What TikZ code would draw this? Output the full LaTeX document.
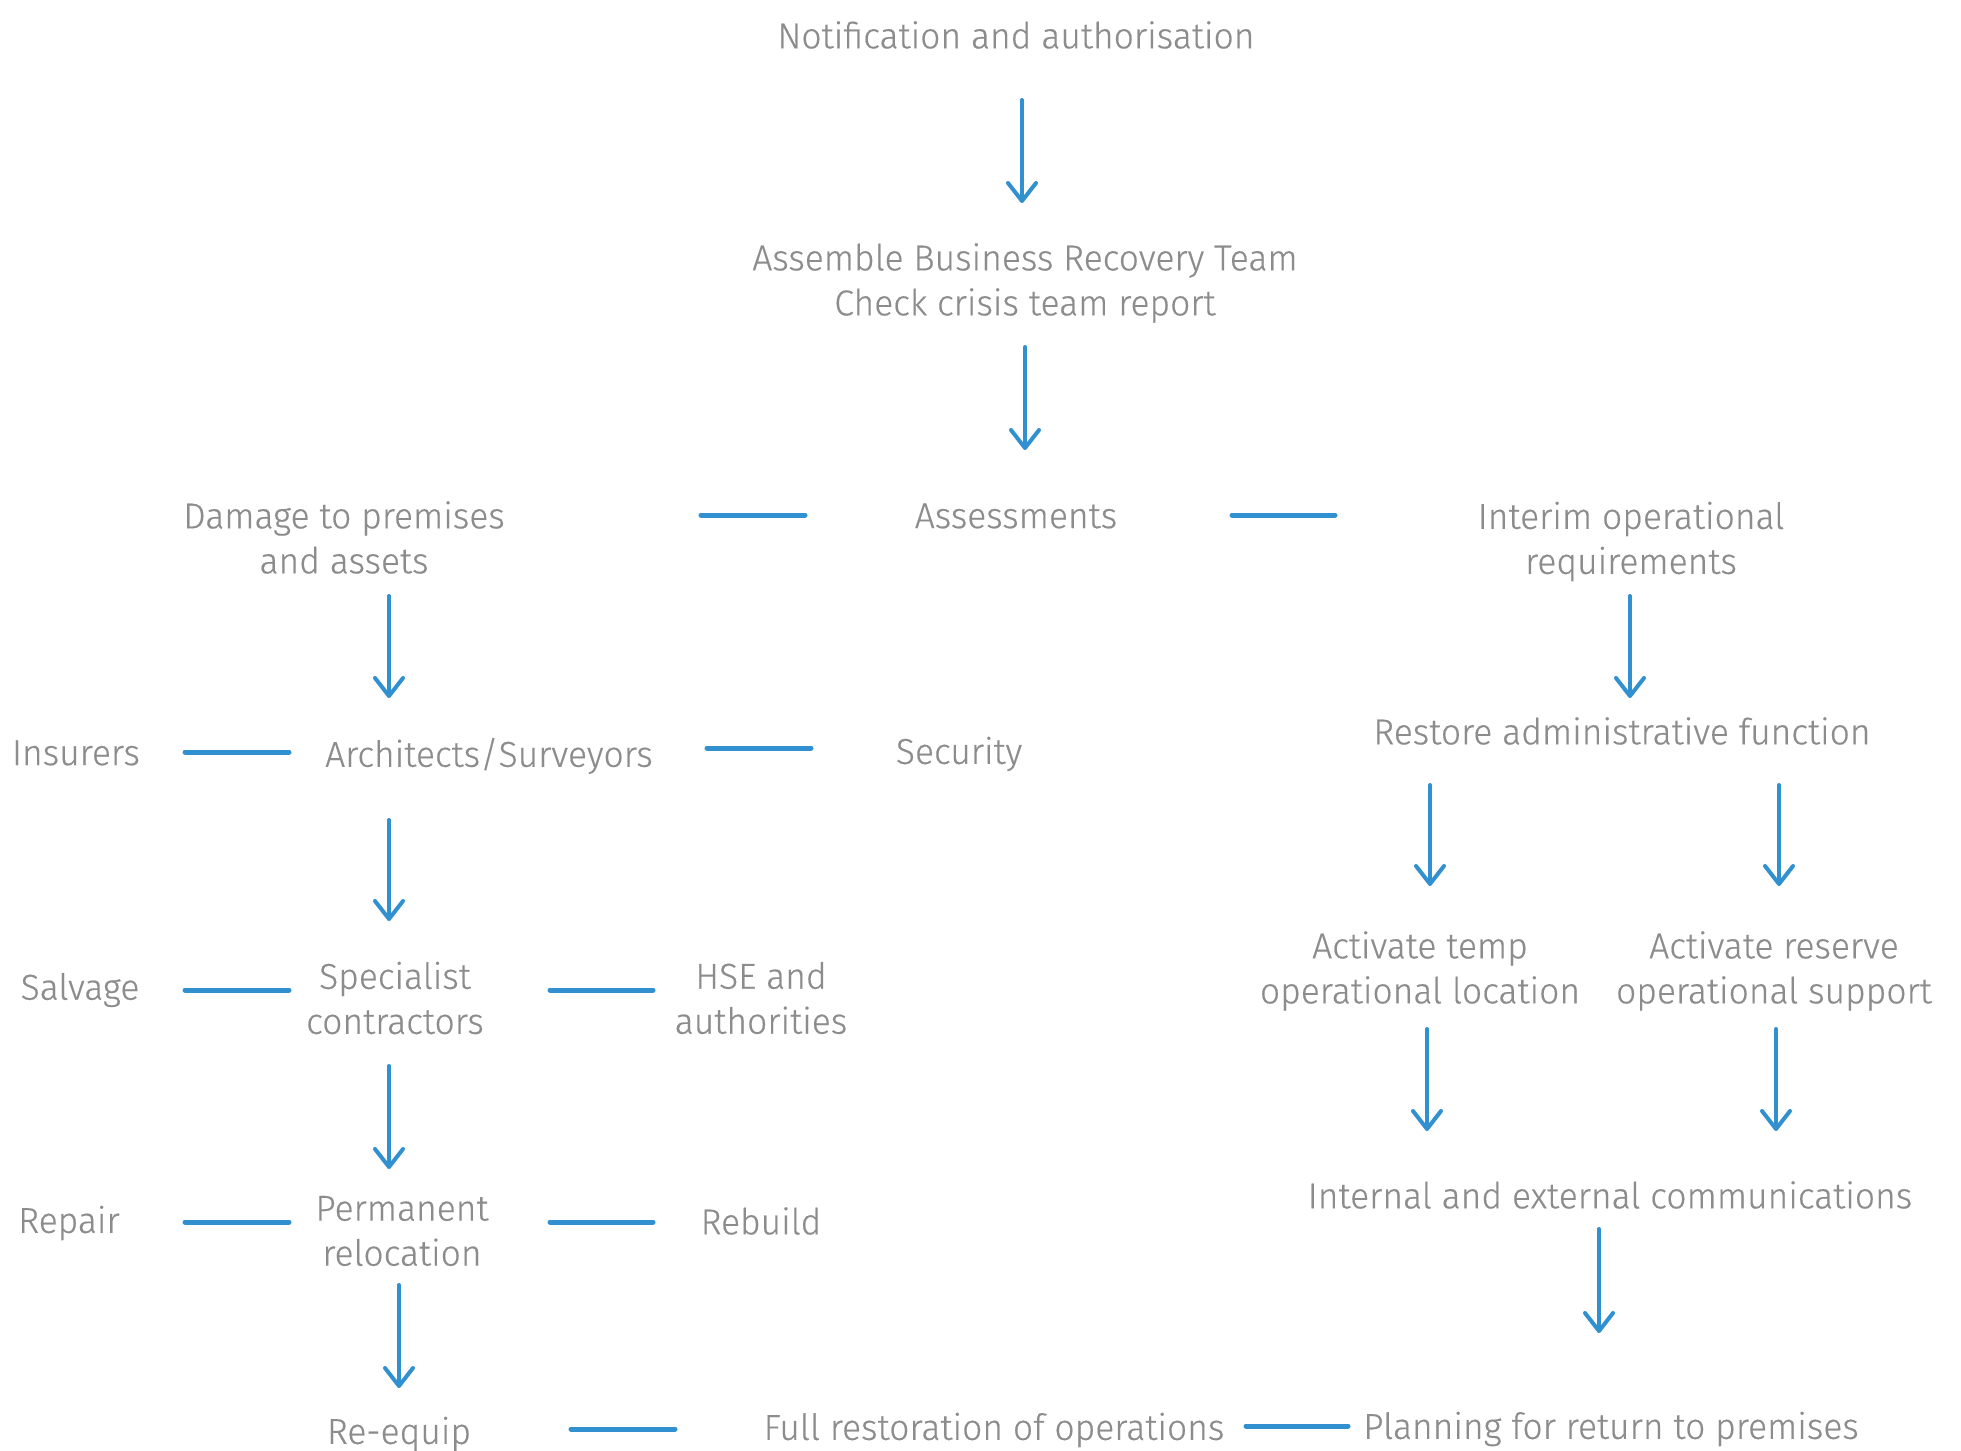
\documentclass[tikz,border=0pt]{standalone}
\usepackage{fontspec}
\setmainfont{Fira Sans Light}[FakeStretch=0.985,FakeBold=0.4]
\usetikzlibrary{arrows.meta}
\definecolor{txtgray}{HTML}{8C8C8C}
\definecolor{lineblue}{HTML}{3090D0}

\begin{document}
\begin{tikzpicture}[x=0.5pt ,y=-0.5pt ,
step text/.style ={ inner sep=0 , text=txtgray , align=center ,
font=\fontsize{18}{22.5}\selectfont},
arr/.style ={ draw=lineblue , line width=2pt , line cap=round ,
-{Straight Barb[length=9pt,width=14pt,round]}},
link/.style ={ draw=lineblue , line width=2.5pt , line cap=round}]
\useasboundingbox (0,0) rectangle (1961,1451);
% text nodes
\node[step text] (notif) at (1016,35) {Notification and authorisation};
\node[step text] (assemble) at (1025,283) {Assemble Business Recovery Team\\Check crisis team report};
\node[step text] (damage) at (344,537.5) {Damage to premises\\and assets};
\node[step text] (assess) at (1016,516) {Assessments};
\node[step text] (interim) at (1631,541.5) {Interim operational\\requirements};
\node[step text] (insurers) at (76,753) {Insurers};
\node[step text] (archi) at (489,756) {Architects/Surveyors};
\node[step text] (security) at (959,754) {Security};
\node[step text] (restore) at (1622,731) {Restore administrative function};
\node[step text] (salvage) at (80,990) {Salvage};
\node[step text] (special) at (395,998) {Specialist\\contractors};
\node[step text] (hse) at (761,998) {HSE and\\authorities};
\node[step text] (acttemp) at (1420,971) {Activate temp\\operational location};
\node[step text] (actres) at (1774,971) {Activate reserve\\operational support};
\node[step text] (repair) at (69,1223) {Repair};
\node[step text] (perm) at (402,1231) {Permanent\\relocation};
\node[step text] (rebuild) at (761,1221) {Rebuild};
\node[step text] (comms) at (1610,1195) {Internal and external communications};
\node[step text] (reequip) at (399,1434) {Re-equip};
\node[step text] (fullrest) at (994,1430) {Full restoration of operations};
\node[step text] (plan) at (1611,1429) {Planning for return to premises};
% arrows
\draw[arr] ([shift={(6,65)}]notif.center) -- ([shift={(-3,-80)}]assemble.center);
\draw[arr] ([shift={(0,64)}]assemble.center) -- ([shift={(9,-66)}]assess.center);
\draw[arr] ([shift={(45,58.5)}]damage.center) -- ([shift={(-100,-58)}]archi.center);
\draw[arr] ([shift={(-1,54.5)}]interim.center) -- ([shift={(8,-33)}]restore.center);
\draw[arr] ([shift={(-100,64)}]archi.center) -- ([shift={(-6,-77)}]special.center);
\draw[arr] ([shift={(-192,54)}]restore.center) -- ([shift={(10,-85)}]acttemp.center);
\draw[arr] ([shift={(157,54)}]restore.center) -- ([shift={(5,-85)}]actres.center);
\draw[arr] ([shift={(-6,68)}]special.center) -- ([shift={(-13,-62)}]perm.center);
\draw[arr] ([shift={(7,58)}]acttemp.center) -- ([shift={(-183,-64)}]comms.center);
\draw[arr] ([shift={(2,58)}]actres.center) -- ([shift={(166,-64)}]comms.center);
\draw[arr] ([shift={(-3,54)}]perm.center) -- ([shift={(0,-46)}]reequip.center);
\draw[arr] ([shift={(-11,34)}]comms.center) -- ([shift={(-12,-96)}]plan.center);
% links
\draw[link] ([shift={(357,-22.5)}]damage.center) -- ([shift={(-211,-1)}]assess.center);
\draw[link] ([shift={(216,-1)}]assess.center) -- ([shift={(-296,-26.5)}]interim.center);
\draw[link] ([shift={(109,-1)}]insurers.center) -- ([shift={(-200,-4)}]archi.center);
\draw[link] ([shift={(218,-8)}]archi.center) -- ([shift={(-148,-6)}]security.center);
\draw[link] ([shift={(105,0)}]salvage.center) -- ([shift={(-106,-8)}]special.center);
\draw[link] ([shift={(155,-8)}]special.center) -- ([shift={(-108,-8)}]hse.center);
\draw[link] ([shift={(116,-1)}]repair.center) -- ([shift={(-113,-9)}]perm.center);
\draw[link] ([shift={(148,-9)}]perm.center) -- ([shift={(-108,1)}]rebuild.center);
\draw[link] ([shift={(172,-5)}]reequip.center) -- ([shift={(-319,-1)}]fullrest.center);
\draw[link] ([shift={(252,-4)}]fullrest.center) -- ([shift={(-263,-3)}]plan.center);
\end{tikzpicture}
\end{document}
